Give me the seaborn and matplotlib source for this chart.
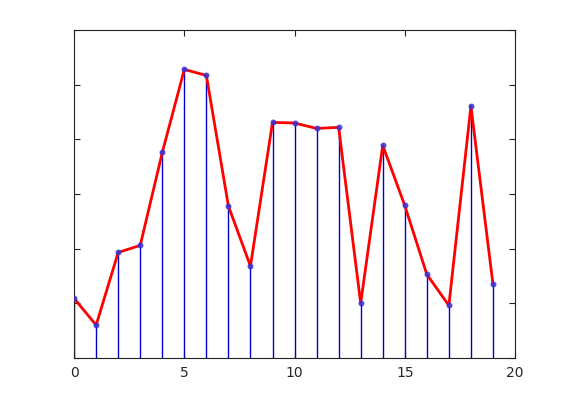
import matplotlib
matplotlib.use("Agg")
import matplotlib.pyplot as plt
import seaborn as sns
import pandas as pd

x_vals = list(range(20))
y_vals = [1.09, 0.60, 1.93, 2.06, 3.76, 5.28, 5.17, 2.78, 1.68, 4.31,
          4.30, 4.20, 4.22, 1.00, 3.89, 2.79, 1.53, 0.96, 4.61, 1.35]
x_ticks = [0, 5, 10, 15, 20]
y_ticks = [0, 1, 2, 3, 4, 5, 6]

df = pd.DataFrame({"x": x_vals, "y": y_vals})

sns.set_style("white")
plt.rcParams['font.family'] = ['DejaVu Sans']

fig = plt.figure(figsize=(5.7, 4.04), dpi=100)
ax = fig.add_axes([0.130, 0.114, 0.7735, 0.8115])

ax.vlines(df["x"], 0, df["y"], colors="#0000cc", linewidth=1.0, zorder=2)
sns.lineplot(data=df, x="x", y="y", color="#ff0000", linewidth=2.0, ax=ax, zorder=3)
sns.scatterplot(data=df, x="x", y="y", color="#3333dd", s=12, marker="o",
                edgecolor="#3333dd", linewidth=0.8, alpha=0.8, ax=ax, zorder=4)

ax.set_xlim(0, 20)
ax.set_ylim(0, 6)
ax.set_xticks(x_ticks)
ax.set_xticklabels([str(t) for t in x_ticks])
ax.set_yticks(y_ticks)
ax.set_yticklabels([])
ax.set_xlabel("")
ax.set_ylabel("")
ax.tick_params(direction="in", length=4, width=0.8, top=True, right=True,
               bottom=True, left=True, labelsize=10, colors="#222222",
               labelcolor="#262626", pad=6)
for s in ax.spines.values():
    s.set_color("#222222")
    s.set_linewidth(0.8)

fig.savefig("out.png", dpi=100)
